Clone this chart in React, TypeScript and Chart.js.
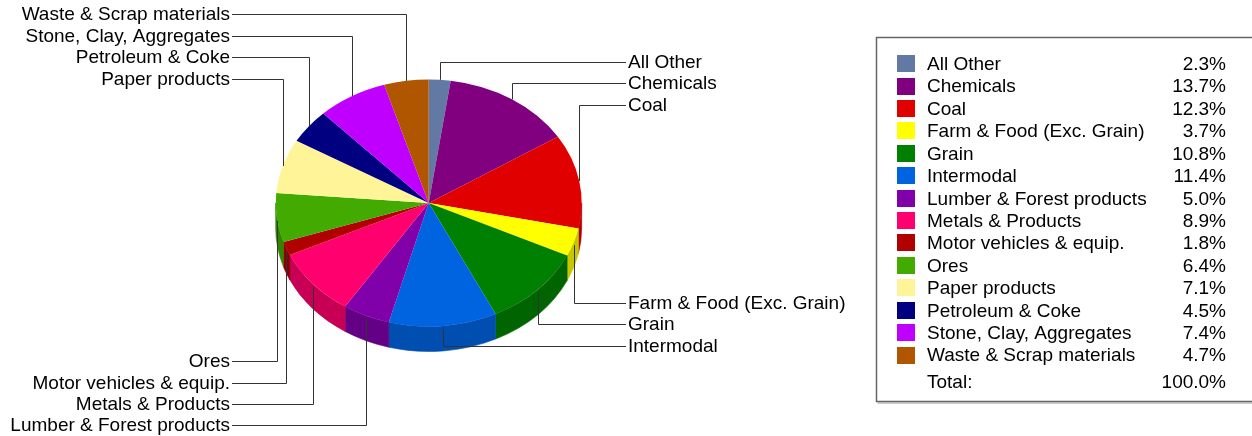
import React, { useEffect, useRef } from 'react';
import { Chart, registerables } from 'chart.js';

Chart.register(...registerables);

// ---- data ----
const categories = [
  'All Other',
  'Chemicals',
  'Coal',
  'Farm & Food (Exc. Grain)',
  'Grain',
  'Intermodal',
  'Lumber & Forest products',
  'Metals & Products',
  'Motor vehicles & equip.',
  'Ores',
  'Paper products',
  'Petroleum & Coke',
  'Stone, Clay, Aggregates',
  'Waste & Scrap materials',
];
const shares = [2.3, 13.7, 12.3, 3.7, 10.8, 11.4, 5.0, 8.9, 1.8, 6.4, 7.1, 4.5, 7.4, 4.7];
const colors = [
  '#627AA3', '#800080', '#E00000', '#FFFF00', '#008000', '#0064E0', '#8000AA',
  '#FF006E', '#B00000', '#42AA00', '#FFF598', '#000080', '#BF00FF', '#B05500',
];
const totalLabel = 'Total:';

// ---- layout (positions / styles, not data) ----
const W = 1252;
const H = 436;
const FONT = '19px "Liberation Sans", Arial, sans-serif';
const TILT = 123.5 / 153; // vertical squash of the pie
const DEPTH = 25;
const TEXT_DY = 1.2;
// y of each outside label, by slice index
const LABEL_Y = [61.5, 83, 104.5, 302.5, 324, 345.5, 425, 403.5, 382.5, 361, 78.5, 57, 35.5, 14];
const RIGHT_TEXT_X = 628;
const LEFT_TEXT_X = 230;
const LEG = { left: 876.5, top: 37.5, bottom: 401.5, swX: 897, swW: 18, swH: 17, textX: 927, pctX: 1226, row0: 63.6, rowH: 22.42, totalY: 381.7 };

function darker(hex: string, f: number) {
  const n = parseInt(hex.slice(1), 16);
  const r = Math.round(((n >> 16) & 255) * f);
  const g = Math.round(((n >> 8) & 255) * f);
  const b = Math.round((n & 255) * f);
  return `rgb(${r},${g},${b})`;
}

const pie3d = {
  id: 'pie3d',
  beforeDatasetsDraw(chart: any) {
    const ctx = chart.ctx;
    const meta = chart.getDatasetMeta(0);
    const first = meta.data[0];
    const cx = first.x;
    const cy = first.y;
    const r = first.outerRadius;
    const ry = r * TILT;
    meta.data.forEach((el: any, i: number) => {
      const a = Math.max(el.startAngle, 0);
      const b = Math.min(el.endAngle, Math.PI);
      if (a >= b) return;
      const col = darker(colors[i], 0.78);
      ctx.save();
      ctx.beginPath();
      ctx.ellipse(cx, cy, r, ry, 0, a, b, false);
      ctx.ellipse(cx, cy + DEPTH, r, ry, 0, b, a, true);
      ctx.closePath();
      ctx.fillStyle = col;
      ctx.strokeStyle = col;
      ctx.lineWidth = 0.6;
      ctx.fill();
      ctx.stroke();
      ctx.restore();
    });
    ctx.save();
    ctx.translate(0, cy);
    ctx.scale(1, TILT);
    ctx.translate(0, -cy);
  },
  afterDatasetsDraw(chart: any) {
    chart.ctx.restore();
  },
  afterDraw(chart: any) {
    const ctx = chart.ctx;
    const meta = chart.getDatasetMeta(0);
    const first = meta.data[0];
    const cx = first.x;
    const cy = first.y;
    const r = first.outerRadius;
    const ry = r * TILT;
    const labels = chart.data.labels as string[];
    const data = chart.data.datasets[0].data as number[];
    const bg = chart.data.datasets[0].backgroundColor as string[];

    ctx.save();
    ctx.font = FONT;
    ctx.textBaseline = 'middle';
    // leader lines and labels
    meta.data.forEach((el: any, i: number) => {
      const mid = (el.startAngle + el.endAngle) / 2;
      const px = Math.round(cx + r * Math.cos(mid)) + 0.5;
      const sn = Math.sin(mid);
      const py = cy + ry * sn + (sn > 0 ? 3 : 0);
      const ly = Math.round(LABEL_Y[i]) + 0.5;
      const right = Math.cos(mid) > 0;
      ctx.beginPath();
      ctx.strokeStyle = '#333333';
      ctx.lineWidth = 1;
      ctx.moveTo(px, py);
      ctx.lineTo(px, ly);
      ctx.lineTo(right ? RIGHT_TEXT_X - 2 : LEFT_TEXT_X + 2, ly);
      ctx.stroke();
      ctx.fillStyle = '#000000';
      ctx.textAlign = right ? 'left' : 'right';
      ctx.fillText(labels[i], right ? RIGHT_TEXT_X : LEFT_TEXT_X, LABEL_Y[i] + TEXT_DY);
    });

    // legend table
    ctx.strokeStyle = '#666666';
    ctx.lineWidth = 1.5;
    ctx.beginPath();
    ctx.moveTo(W + 5, LEG.top);
    ctx.lineTo(LEG.left, LEG.top);
    ctx.lineTo(LEG.left, LEG.bottom);
    ctx.lineTo(W + 5, LEG.bottom);
    ctx.stroke();
    ctx.strokeStyle = '#999999';
    ctx.lineWidth = 1;
    ctx.beginPath();
    ctx.moveTo(LEG.left + 1, LEG.bottom + 1.5);
    ctx.lineTo(W + 5, LEG.bottom + 1.5);
    ctx.stroke();

    const total = data.reduce((s, v) => s + v, 0);
    labels.forEach((lab, i) => {
      const y = LEG.row0 + i * LEG.rowH;
      ctx.fillStyle = bg[i];
      ctx.fillRect(LEG.swX, Math.round(y - LEG.swH / 2), LEG.swW, LEG.swH);
      ctx.fillStyle = '#000000';
      ctx.textAlign = 'left';
      ctx.fillText(lab, LEG.textX, y + TEXT_DY);
      ctx.textAlign = 'right';
      ctx.fillText(data[i].toFixed(1) + '%', LEG.pctX, y + TEXT_DY);
    });
    ctx.textAlign = 'left';
    ctx.fillText(totalLabel, LEG.textX, LEG.totalY + TEXT_DY);
    ctx.textAlign = 'right';
    ctx.fillText(total.toFixed(1) + '%', LEG.pctX, LEG.totalY + TEXT_DY);
    ctx.restore();
  },
};

export default function App() {
  const ref = useRef<HTMLCanvasElement | null>(null);
  useEffect(() => {
    if (!ref.current) return;
    const chart = new Chart(ref.current, {
      type: 'pie',
      data: {
        labels: categories,
        datasets: [
          {
            data: shares,
            backgroundColor: colors,
            borderWidth: 0,
            clip: false as any,
          },
        ],
      },
      options: {
        responsive: false,
        animation: false,
        devicePixelRatio: 1,
        layout: { padding: { left: 275.7, right: 670.3, top: 50, bottom: 80 } },
        plugins: {
          legend: { display: false },
          tooltip: { enabled: false },
        },
        events: [],
      },
      plugins: [pie3d],
    });
    return () => chart.destroy();
  }, []);
  return (
    <div style={{ position: 'absolute', left: 0, top: 0, width: W, height: H, background: '#ffffff' }}>
      <canvas ref={ref} width={W} height={H} style={{ display: 'block', width: W, height: H }} />
    </div>
  );
}
